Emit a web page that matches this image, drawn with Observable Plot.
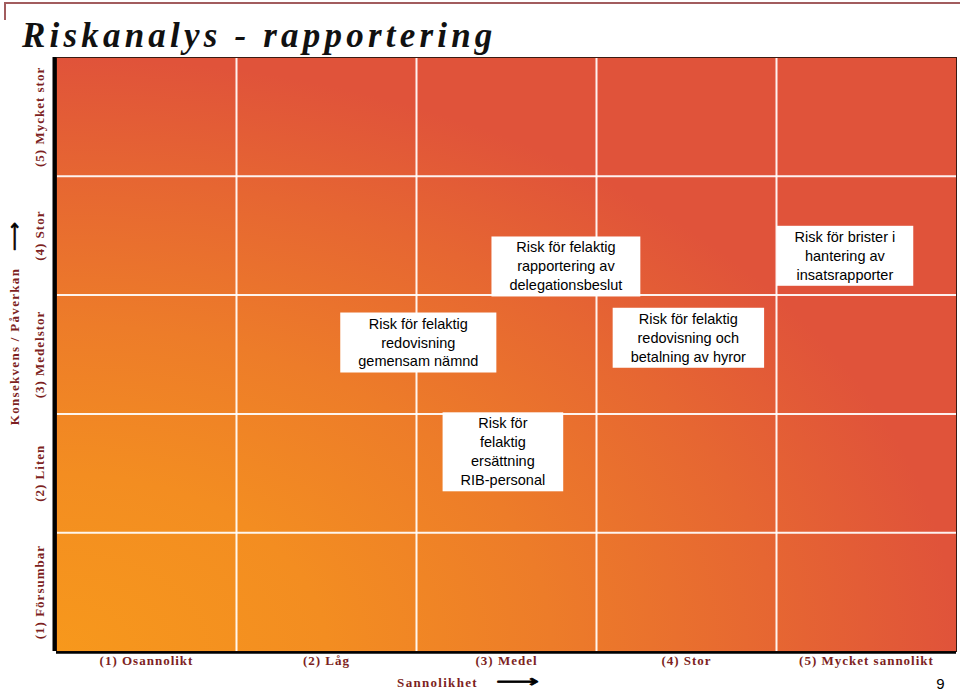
<!DOCTYPE html>
<html><head><meta charset="utf-8">
<script src="https://cdn.jsdelivr.net/npm/d3@7"></script>
<script src="https://cdn.jsdelivr.net/npm/@observablehq/plot@0.6"></script>
<style>
html,body{margin:0;padding:0;background:#fff;}
body{width:960px;height:692px;overflow:hidden;position:relative;}
#header{position:relative;height:55px;}
#topline{position:absolute;left:4px;top:2px;right:0;height:2px;background:#a25c5e;}
#corner{position:absolute;left:4px;top:2px;width:2px;height:18px;background:#a25c5e;}
#title{position:absolute;left:22px;top:18px;margin:0;font-family:"Liberation Serif","Times New Roman",serif;font-style:italic;font-weight:bold;font-size:35px;letter-spacing:4.2px;line-height:1;color:#111;white-space:nowrap;}
svg{display:block;}
</style>
</head><body>
<div id="header"><div id="topline"></div><div id="corner"></div><h1 id="title">Riskanalys - rapportering</h1></div>
<div id="chart"></div>
<script>
// Categories
const likelihood = ["(1) Osannolikt", "(2) Låg", "(3) Medel", "(4) Stor", "(5) Mycket sannolikt"];
const consequence = ["(1) Försumbar", "(2) Liten", "(3) Medelstor", "(4) Stor", "(5) Mycket stor"];
const xTitle = "Sannolikhet";
const yTitle = "Konsekvens / Påverkan";
const pageNumber = "9";

// Risks placed in the matrix (likelihood, consequence)
const riskNames = [
  "Risk för felaktig\nredovisning\ngemensam nämnd",
  "Risk för felaktig\nrapportering av\ndelegationsbeslut",
  "Risk för felaktig\nredovisning och\nbetalning av hyror",
  "Risk för brister i\nhantering av\ninsatsrapporter",
  "Risk för\nfelaktig\nersättning\nRIB-personal"
];
const riskLikelihood = [2.51, 3.33, 4.01, 4.88, 2.98];
const riskConsequence = [3.11, 3.75, 3.15, 3.84, 2.19];

const risks = riskNames.map((name, i) => ({name, x: riskLikelihood[i], y: riskConsequence[i]}));
const levels = likelihood.map((_, i) => i + 1);
const edges = levels.slice(0, -1).map(v => v + 0.5);

const red = "#7d1f22";
const serif = "Liberation Serif, Times New Roman, serif";
const sans = "Liberation Sans, Arial, sans-serif";

const chart = Plot.plot({
  width: 960,
  height: 637,
  marginTop: 2,
  marginBottom: 41,
  marginLeft: 56,
  marginRight: 4,
  x: {domain: [0.5, 5.5], axis: null},
  y: {domain: [0.5, 5.5], axis: null},
  style: {background: "white", overflow: "visible"},
  marks: [
    Plot.frame({fill: "url(#riskgrad)"}),
    Plot.ruleX(edges, {stroke: "white", strokeWidth: 2, strokeOpacity: 0.92}),
    Plot.ruleY(edges, {stroke: "white", strokeWidth: 2, strokeOpacity: 0.92}),
    Plot.frame({stroke: "#3b1a12", strokeWidth: 1}),
    Plot.ruleX([0.5], {stroke: "#000", strokeWidth: 4, dx: -2}),
    Plot.ruleY([0.5], {stroke: "#000", strokeWidth: 2.5, dy: 1}),
    Plot.axisX(levels, {tickSize: 0, tickPadding: 4, tickFormat: d => likelihood[d - 1], fontFamily: serif, fontWeight: "bold", fontSize: 13, fill: red, label: null}),
    Plot.axisY(levels, {anchor: "left", tickSize: 0, tickRotate: -90, tickPadding: 13, tickFormat: d => consequence[d - 1], fontFamily: serif, fontWeight: "bold", fontSize: 13, fill: red, label: null}),
    Plot.text([xTitle], {frameAnchor: "bottom", textAnchor: "middle", lineAnchor: "middle", dx: -69, dy: 31, fontFamily: serif, fontWeight: "bold", fontSize: 13, fill: red, ariaDescription: "axis-title"}),
    Plot.text(["⟶"], {frameAnchor: "bottom", textAnchor: "middle", lineAnchor: "middle", dx: 11, dy: 30, fontFamily: "DejaVu Sans", fontSize: 17, fill: "black", stroke: "black", strokeWidth: 0.7, ariaDescription: "x-arrow"}),
    Plot.text([yTitle], {frameAnchor: "left", textAnchor: "middle", lineAnchor: "middle", rotate: -90, dx: -42, dy: -8, fontFamily: serif, fontWeight: "bold", fontSize: 13, fill: red, ariaDescription: "axis-title"}),
    Plot.text(["⟶"], {frameAnchor: "left", textAnchor: "middle", lineAnchor: "middle", rotate: -90, dx: -42, dy: -118, fontFamily: "DejaVu Sans", fontSize: 17, fill: "black", stroke: "black", strokeWidth: 0.7, ariaDescription: "y-arrow"}),
    Plot.text([pageNumber], {frameAnchor: "bottom-right", textAnchor: "end", lineAnchor: "middle", dx: -12, dy: 33, fontFamily: sans, fontSize: 15, fill: "black"}),
    Plot.text(risks, {x: "x", y: "y", text: "name", fontFamily: sans, fontSize: 14.5, lineHeight: 1.31, fill: "black", ariaDescription: "risk-labels"})
  ]
});

document.getElementById("chart").appendChild(chart);

const svg = d3.select(chart);
const defs = svg.insert("defs", ":first-child");
const grad = defs.append("radialGradient")
  .attr("id", "riskgrad")
  .attr("cx", 0).attr("cy", 1).attr("r", 1).attr("fx", 0).attr("fy", 1);
[[0, "#f7981c"], [0.3, "#f38d21"], [0.55, "#ed7c29"], [0.8, "#e66632"], [1, "#e0533a"]]
  .forEach(([o, c]) => grad.append("stop").attr("offset", o).attr("stop-color", c));

svg.selectAll('g[aria-label="x-axis tick label"] text, g[aria-label="y-axis tick label"] text').style("letter-spacing", "1px");
svg.selectAll('g[aria-description="axis-title"] text').style("letter-spacing", "1.3px");
// stretch the arrow glyphs to the reference lengths
svg.selectAll('g[aria-description="x-arrow"] text').attr("textLength", 43).attr("lengthAdjust", "spacingAndGlyphs");
svg.selectAll('g[aria-description="y-arrow"] text').attr("textLength", 29).attr("lengthAdjust", "spacingAndGlyphs");

svg.selectAll('g[aria-description="risk-labels"] text').each(function () {
  const b = this.getBBox();
  const rect = document.createElementNS("http://www.w3.org/2000/svg", "rect");
  rect.setAttribute("x", b.x - 18);
  rect.setAttribute("y", b.y - 3);
  rect.setAttribute("width", b.width + 36);
  rect.setAttribute("height", b.height + 6);
  rect.setAttribute("fill", "white");
  const t = this.getAttribute("transform");
  if (t) rect.setAttribute("transform", t);
  this.parentNode.insertBefore(rect, this);
});
</script>
</body></html>
